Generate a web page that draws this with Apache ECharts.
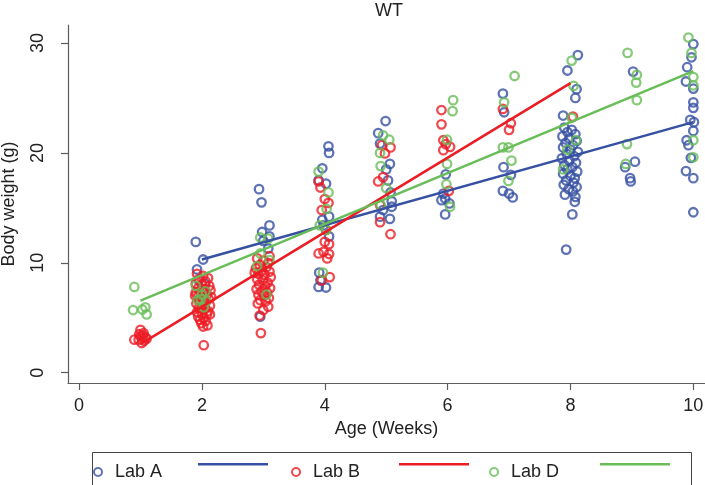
<!DOCTYPE html>
<html>
<head>
<meta charset="utf-8">
<script src="https://cdn.jsdelivr.net/npm/echarts@6/dist/echarts.min.js"></script>
<style>html,body{margin:0;padding:0;background:#fff}#c{width:705px;height:485px}</style>
</head>
<body>
<div id="c"></div>
<script>
// ---- data ----
const xTicks = [0, 2, 4, 6, 8, 10];
const yTicks = [0, 10, 20, 30];

const labA = [
  [1.9,11.9],[2.02,10.3],[1.92,9.4],[1.95,8.4],[2.05,8.1],
  [2.93,16.7],[2.97,15.5],[3.1,13.4],[2.98,12.8],[3.1,12.4],[3.08,11.3],[3.0,12.0],[2.95,5.1],
  [4.06,20.6],[4.07,20.0],[3.96,18.6],[4.02,17.2],[3.9,17.5],[4.07,14.2],[3.96,13.9],[4.07,12.4],[3.98,13.4],[3.9,7.8],[4.02,7.75],[3.93,8.4],[3.91,9.1],
  [4.99,22.9],[4.87,21.8],[4.9,20.85],[5.06,19.0],[5.03,17.5],[5.07,16.4],[5.09,15.1],[5.06,14.0],[4.9,14.2],[4.95,14.8],[5.09,15.6],[5.0,18.5],
  [5.97,18.05],[5.93,16.3],[5.96,15.85],[6.03,15.4],[5.96,14.4],[5.9,15.7],
  [6.9,25.4],[6.92,23.7],[6.91,18.7],[7.03,18.0],[6.9,16.55],[7.0,16.3],[7.06,15.95],
  [7.9,22.3],[8.02,22.1],[7.95,21.9],[8.08,21.7],[7.87,21.5],[7.98,21.3],[8.1,21.1],[7.92,20.9],[8.04,20.7],[7.88,20.5],
  [8.0,20.3],[8.12,20.1],[7.94,19.9],[8.06,19.7],[7.86,19.5],[7.98,19.3],[8.09,19.1],[7.9,18.9],[8.03,18.7],[7.95,18.5],
  [8.11,18.3],[7.88,18.1],[8.0,17.9],[8.07,17.7],[7.93,17.5],[8.05,17.3],[7.89,17.1],[8.1,16.9],[7.97,16.7],[8.04,16.5],
  [7.91,16.2],[8.08,16.0],[8.07,15.55],[8.03,14.4],[7.93,11.2],[7.88,23.4],[8.08,25.0],[8.1,25.8],[7.95,27.5],[8.12,28.9],
  [9.02,27.4],[9.05,19.2],[8.89,18.7],[8.97,17.7],[8.98,17.4],
  [10.0,29.9],[9.97,28.7],[9.9,27.8],[9.88,26.5],[10.0,25.85],[10.0,24.6],[10.0,24.1],[9.95,23.0],[10.01,22.8],[10.0,22.0],
  [9.89,21.15],[9.92,20.7],[9.96,19.55],[9.88,18.35],[10.0,17.7],[10.0,14.6]
];

const labB = [
  [0.9,3.0],[1.0,3.9],[0.98,3.5],[1.05,3.6],[1.08,3.2],[1.02,2.7],[0.97,3.0],[1.06,2.9],[1.0,3.3],[1.1,3.1],[1.04,3.4],
  [1.92,9.0],[2.02,8.8],[2.1,8.6],[1.95,8.5],[2.06,8.3],[1.9,8.1],[2.0,8.0],[2.12,7.9],[1.94,7.7],[2.04,7.6],
  [2.14,7.5],[1.9,7.3],[1.98,7.2],[2.08,7.1],[1.93,6.9],[2.03,6.8],[2.11,6.7],[1.96,6.5],[2.06,6.4],[1.91,6.3],
  [2.01,6.2],[2.13,6.1],[1.95,5.9],[2.05,5.8],[2.1,5.6],[1.92,5.5],[2.0,5.4],[2.08,5.3],[1.94,5.1],[2.03,5.0],
  [1.97,4.8],[2.06,4.7],[1.99,4.5],[2.02,4.2],[2.09,4.3],[2.13,5.3],[2.03,2.5],[1.89,7.0],[2.15,6.9],[2.0,6.0],
  [2.9,10.4],[3.0,10.2],[3.08,10.0],[2.94,9.8],[3.05,9.6],[2.88,9.5],[2.98,9.3],[3.1,9.2],[2.92,9.0],[3.02,8.9],
  [3.12,8.7],[2.9,8.5],[2.99,8.4],[3.07,8.2],[2.93,8.0],[3.03,7.9],[3.11,7.7],[2.89,7.6],[2.97,7.4],[3.06,7.3],
  [2.92,7.1],[3.01,7.0],[3.09,6.8],[2.95,6.6],[3.04,6.5],[2.91,6.3],[3.08,6.0],[2.94,5.2],[2.96,3.6],[3.0,5.7],[3.1,10.6],[2.86,9.1],
  [3.9,17.4],[3.93,16.85],[4.0,15.8],[4.06,15.45],[3.95,14.8],[4.0,11.9],[4.07,11.7],[3.9,10.85],[3.98,11.0],[4.07,10.8],[4.04,10.4],[4.08,8.7],[3.95,8.4],[4.02,13.0],
  [4.93,20.7],[5.07,20.5],[4.98,19.95],[4.95,17.8],[4.87,17.4],[4.9,15.25],[4.9,13.7],[5.07,12.6],
  [5.9,23.9],[5.9,22.6],[5.93,21.15],[6.04,20.55],[5.93,20.25],[5.97,20.8],[6.02,16.55],
  [6.9,24.0],[7.03,22.7],[7.0,22.1],
  [8.04,23.3]
];

const labD = [
  [0.9,7.8],[0.88,5.7],[1.03,5.75],[1.08,5.95],[1.1,5.3],
  [1.9,7.9],[2.06,7.4],[1.93,6.6],[1.98,6.7],[2.07,6.5],[2.03,5.95],[2.0,7.1],
  [2.95,12.3],[3.08,12.2],[2.95,10.85],[3.1,10.25],[2.9,9.7],[3.05,7.1],
  [3.9,18.3],[4.06,16.4],[4.03,14.9],[3.92,13.4],[4.02,13.0],[3.97,9.1],
  [4.95,21.6],[5.05,21.2],[4.9,20.0],[4.91,18.8],[5.0,16.8],[4.91,15.25],
  [6.09,24.8],[6.08,23.8],[5.99,21.2],[5.99,19.0],[5.98,17.15],[6.04,15.1],
  [7.09,27.0],[6.92,24.6],[6.9,20.5],[6.99,20.5],[7.04,19.3],[6.99,17.45],
  [8.02,28.4],[8.05,26.1],[8.02,23.2],[8.09,21.15],[7.95,20.3],[7.88,18.5],
  [8.93,29.1],[9.08,27.1],[9.07,26.4],[9.08,24.8],[8.92,20.8],[8.9,19.0],
  [9.92,30.5],[9.97,29.1],[10.0,26.9],[10.0,26.15],[10.0,21.15],[10.0,19.6]
];

const fitA = [[2.0,10.3],[10.0,22.8]];
const fitB = [[1.0,2.6],[8.0,26.35]];
const fitD = [[1.0,6.55],[10.0,27.45]];

// ---- styles ----
const BLUE = '#3650a2', RED = '#ec1c24', GREEN = '#69bd58';
const AXIS = '#5c5c5c', TXT = '#222';
const FONT = 'Liberation Sans, Arial, sans-serif';

function scatter(name, data, color) {
  return { name, type: 'scatter', data, symbol: 'circle', symbolSize: 8.5,
    itemStyle: { color: 'rgba(0,0,0,0)', borderColor: color, borderWidth: 2.3 } };
}
function fit(name, data, color) {
  return { name, type: 'line', data, symbol: 'none', showSymbol: false,
    lineStyle: { color, width: 2.5 }, itemStyle: { color } };
}

const chart = echarts.init(document.getElementById('c'), null, { renderer: 'canvas' });
chart.setOption({
  animation: false,
  backgroundColor: '#fff',
  textStyle: { fontFamily: FONT },
  title: { text: 'WT', left: 384, textAlign: 'center', top: -3,
    textStyle: { fontSize: 18, fontWeight: 'normal', color: TXT, fontFamily: FONT } },
  grid: { left: 68, right: 0, top: 25, bottom: 102, containLabel: false, outerBoundsMode: 'none' },
  xAxis: {
    type: 'value', min: -0.18, max: 10.19,
    name: 'Age (Weeks)', nameLocation: 'middle', nameGap: 37,
    nameTextStyle: { fontSize: 18, color: TXT, fontFamily: FONT },
    axisLine: { show: true, onZero: false, lineStyle: { color: AXIS, width: 1.2 } },
    axisTick: { show: true, length: 7, customValues: xTicks, lineStyle: { color: AXIS, width: 1.2 } },
    axisLabel: { customValues: xTicks, fontSize: 18, color: TXT, margin: 14, fontFamily: FONT },
    splitLine: { show: false }
  },
  yAxis: {
    type: 'value', min: -0.94, max: 31.64,
    name: 'Body weight (g)', nameLocation: 'middle', nameGap: 50, nameRotate: 90,
    nameTextStyle: { fontSize: 18, color: TXT, fontFamily: FONT },
    axisLine: { show: true, onZero: false, lineStyle: { color: AXIS, width: 1.2 } },
    axisTick: { show: true, length: 7, customValues: yTicks, lineStyle: { color: AXIS, width: 1.2 } },
    axisLabel: { customValues: yTicks, fontSize: 18, color: TXT, margin: 21, rotate: 90, fontFamily: FONT },
    splitLine: { show: false }
  },
  legend: [
    { data: ['Lab A', 'Lab B', 'Lab D'], left: 88, top: 458, orient: 'horizontal',
      itemWidth: 24, itemHeight: 8, itemGap: 129, selectedMode: false,
      textStyle: { fontSize: 18, color: TXT, fontFamily: FONT } },
    { data: [
        { name: 'Lab A fit', icon: 'rect', itemStyle: { color: BLUE } },
        { name: 'Lab B fit', icon: 'rect', itemStyle: { color: RED } },
        { name: 'Lab D fit', icon: 'rect', itemStyle: { color: GREEN } }
      ],
      left: 193, top: 458, orient: 'horizontal',
      itemWidth: 70, itemHeight: 2.5, itemGap: 131, selectedMode: false,
      formatter: function () { return ''; },
      textStyle: { fontSize: 18, color: TXT, fontFamily: FONT } }
  ],
  graphic: [
    { type: 'rect', left: 90, top: 450, silent: true,
      shape: { x: 0.5, y: 0.5, width: 599, height: 34 },
      style: { fill: 'none', stroke: '#444', lineWidth: 1 } }
  ],
  series: [
    scatter('Lab A', labA, BLUE), fit('Lab A fit', fitA, BLUE),
    scatter('Lab B', labB, RED), fit('Lab B fit', fitB, RED),
    scatter('Lab D', labD, GREEN), fit('Lab D fit', fitD, GREEN)
  ]
});
</script>
</body>
</html>
